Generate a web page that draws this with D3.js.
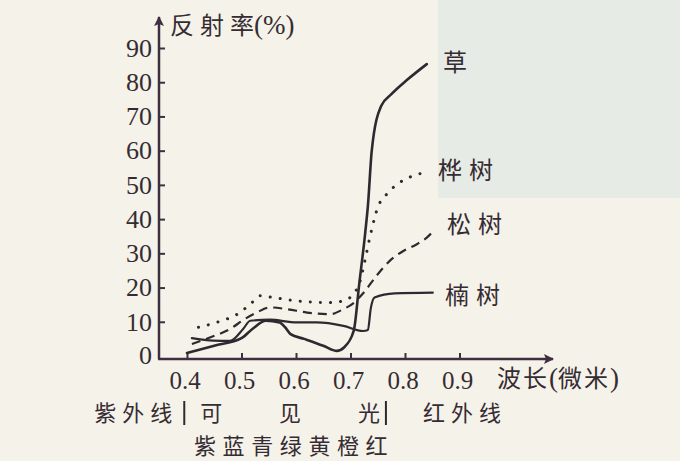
<!DOCTYPE html>
<html>
<head>
<meta charset="utf-8">
<script src="https://cdn.jsdelivr.net/npm/d3@7"></script>
<style>
  body { margin: 0; background: #f5f2e9; }
  svg { display: block; }
  .cn { font-family: "Noto Sans CJK SC", sans-serif; fill: #352c33; }
  .num { font-family: "Liberation Serif", serif; fill: #352c33; }
</style>
</head>
<body>
<svg width="680" height="461"></svg>
<script>
// wavelength (um) / reflectance (%)
const wavelengthTicks = [0.4, 0.5, 0.6, 0.7, 0.8, 0.9];
const reflectTicks = [0, 10, 20, 30, 40, 50, 60, 70, 80, 90];

const grass = [
  [0.40, 0.9], [0.45, 3.0], [0.50, 5.2], [0.52, 7.9], [0.545, 10.3],
  [0.57, 9.8], [0.58, 8.4], [0.59, 6.4], [0.615, 5.0], [0.65, 3.0],
  [0.675, 1.5], [0.688, 2.5], [0.706, 7.4], [0.716, 21], [0.727, 36],
  [0.732, 44], [0.739, 60], [0.756, 73], [0.775, 76.5], [0.804, 80.7], [0.84, 85.3]
];
const birch = [
  [0.421, 8.4], [0.454, 9.8], [0.497, 12.7], [0.519, 15.6], [0.534, 17.6],
  [0.558, 17.1], [0.601, 16.1], [0.662, 15.6], [0.687, 16.1], [0.705, 18.1],
  [0.717, 21.5], [0.727, 28.3], [0.736, 35], [0.751, 43.8], [0.766, 47.2],
  [0.785, 50.1], [0.809, 52.3], [0.828, 53.3]
];
const pine = [
  [0.409, 3.5], [0.442, 5.4], [0.479, 7.9], [0.506, 10.8], [0.528, 12.7],
  [0.552, 14.2], [0.583, 13.7], [0.620, 12.7], [0.662, 12.2], [0.687, 13.7],
  [0.705, 15.4], [0.724, 18.5], [0.748, 23.5], [0.772, 27.8], [0.797, 30.7],
  [0.821, 32.6], [0.840, 34.6], [0.855, 37]
];
const nanmu = [
  [0.409, 5.2], [0.448, 4.5], [0.479, 4.4], [0.503, 7.9], [0.516, 10.3],
  [0.552, 10.6], [0.601, 9.8], [0.638, 9.8], [0.687, 8.8], [0.723, 7.3],
  [0.732, 7.6], [0.737, 13.7], [0.744, 17.1], [0.781, 18.3], [0.851, 18.5]
];

const seriesNames = ["草", "桦树", "松树", "楠树"];
const seriesData = [grass, birch, pine, nanmu];

const svg = d3.select("svg");
const ink = "#2f292f";
const axisInk = "#3e2f40";

// show-through panel from the scanned page
svg.append("rect")
  .attr("x", 438).attr("y", 0).attr("width", 242).attr("height", 198)
  .attr("fill", "#e7ebe5");

const x = d3.scaleLinear().domain([0.4, 0.9]).range([187, 459.5]);
const y = d3.scaleLinear().domain([0, 90]).range([356, 48]);

const x0 = 159, yAxis0 = 359;

svg.append("defs").append("marker")
    .attr("id", "arr")
    .attr("viewBox", "0 0 10 10")
    .attr("refX", 9).attr("refY", 5)
    .attr("markerWidth", 5).attr("markerHeight", 4)
    .attr("markerUnits", "strokeWidth")
    .attr("orient", "auto")
  .append("path")
    .attr("d", "M0,0 L10,5 L0,10 L2,5 Z")
    .attr("fill", axisInk);

// axes lines with arrows
svg.append("line")
  .attr("x1", x0).attr("y1", yAxis0).attr("x2", x0).attr("y2", 17)
  .attr("stroke", axisInk).attr("stroke-width", 2.5)
  .attr("marker-end", "url(#arr)");
svg.append("line")
  .attr("x1", x0 - 1).attr("y1", yAxis0).attr("x2", 553).attr("y2", yAxis0)
  .attr("stroke", axisInk).attr("stroke-width", 2.5)
  .attr("marker-end", "url(#arr)");

const gy = svg.append("g")
  .attr("transform", `translate(${x0},0)`)
  .call(d3.axisLeft(y).tickValues(reflectTicks.slice(1)).tickSize(-6).tickPadding(7));
gy.select(".domain").remove();
gy.selectAll(".tick line").attr("stroke", axisInk).attr("stroke-width", 2);
gy.selectAll(".tick text").attr("class", "num").attr("font-size", 26);
// the "0" label sits on its own, just above the x axis
svg.append("text").attr("class", "num")
  .attr("x", x0 - 7).attr("y", y(0)).attr("dy", "0.32em")
  .attr("text-anchor", "end").attr("font-size", 26)
  .text(reflectTicks[0]);

const gx = svg.append("g")
  .attr("transform", `translate(0,${yAxis0})`)
  .call(d3.axisBottom(x).tickValues(wavelengthTicks).tickSize(-6).tickPadding(12)
    .tickFormat(d3.format(".1f")));
gx.select(".domain").remove();
gx.selectAll(".tick line").attr("stroke", axisInk).attr("stroke-width", 2);
gx.selectAll(".tick text").attr("class", "num").attr("font-size", 25).attr("dx", "-0.1em");

// curves
const line = d3.line()
  .x(d => x(d[0]))
  .y(d => y(d[1]))
  .curve(d3.curveMonotoneX);

const styles = [
  {w: 2.6, dash: null, cap: "round"},
  {w: 3, dash: "0.1 10", cap: "round"},
  {w: 2.2, dash: "9 6", cap: "butt"},
  {w: 2.2, dash: null, cap: "round"}
];

svg.selectAll("path.curve")
  .data(seriesData)
  .join("path")
    .attr("class", "curve")
    .attr("d", line)
    .attr("fill", "none")
    .attr("stroke", ink)
    .attr("stroke-width", (d, i) => styles[i].w)
    .attr("stroke-dasharray", (d, i) => styles[i].dash)
    .attr("stroke-linecap", (d, i) => styles[i].cap)
    .attr("stroke-linejoin", "round");

// curve labels
const labelPos = [[443, 62], [438, 170], [447, 224], [445, 295]];
svg.selectAll("text.series")
  .data(seriesNames)
  .join("text")
    .attr("class", "cn series")
    .attr("x", (d, i) => labelPos[i][0])
    .attr("y", (d, i) => labelPos[i][1])
    .attr("dy", "0.36em")
    .attr("font-size", 24)
    .attr("letter-spacing", 7)
    .text(d => d);

// axis titles
const yTitle = svg.append("text").attr("x", 170).attr("y", 28).attr("dy", "0.36em");
yTitle.append("tspan").attr("class", "cn").attr("font-size", 24).attr("letter-spacing", 6).text("反射");
yTitle.append("tspan").attr("class", "cn").attr("font-size", 24).text("率");
yTitle.append("tspan").attr("class", "num").attr("font-size", 27).text("(%)");

const xTitle = svg.append("text").attr("x", 497).attr("y", 381).attr("dy", "0.36em");
xTitle.append("tspan").attr("class", "cn").attr("font-size", 24).attr("letter-spacing", 2).text("波长");
xTitle.append("tspan").attr("class", "num").attr("font-size", 27).text("(");
xTitle.append("tspan").attr("class", "cn").attr("font-size", 24).attr("letter-spacing", 2).text("微米");
xTitle.append("tspan").attr("class", "num").attr("font-size", 27).text(")");

// spectrum band row
const bandLeft = x(0.395), bandRight = x(0.765);
const rowY = 413;
[bandLeft, bandRight].forEach(bx => {
  svg.append("line")
    .attr("x1", bx).attr("x2", bx).attr("y1", rowY - 12).attr("y2", rowY + 12)
    .attr("stroke", ink).attr("stroke-width", 2);
});
const rowText = [
  {t: "紫外线", x: bandLeft - 6, a: "end"},
  {t: "可", x: bandLeft + 16, a: "start"},
  {t: "见", x: 279, a: "start"},
  {t: "光", x: bandRight - 6, a: "end"},
  {t: "红外线", x: 423, a: "start"}
];
svg.selectAll("text.band")
  .data(rowText)
  .join("text")
    .attr("class", "cn band")
    .attr("x", d => d.x)
    .attr("y", rowY)
    .attr("dy", "0.36em")
    .attr("text-anchor", d => d.a)
    .attr("font-size", 22)
    .attr("letter-spacing", d => d.t.length > 1 ? 6 : 0)
    .text(d => d.t);

const colours = ["紫", "蓝", "青", "绿", "黄", "橙", "红"];
svg.append("text")
  .attr("class", "cn")
  .attr("x", 194).attr("y", 446).attr("dy", "0.36em")
  .attr("font-size", 22)
  .attr("letter-spacing", 6.6)
  .text(colours.join(""));
</script>
</body>
</html>
